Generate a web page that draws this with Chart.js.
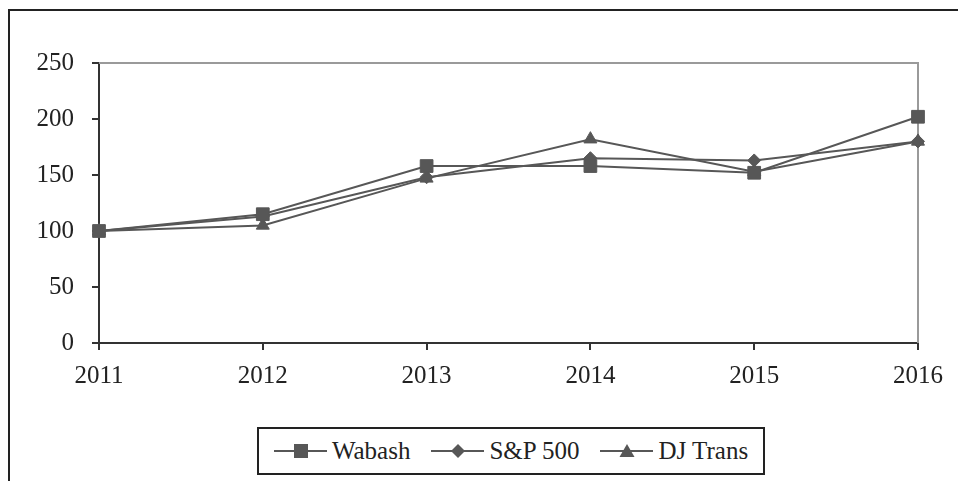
<!DOCTYPE html>
<html>
<head>
<meta charset="utf-8">
<script src="https://cdn.jsdelivr.net/npm/chart.js@4.4.1/dist/chart.umd.min.js"></script>
<style>
  html, body { margin: 0; padding: 0; background: #fff; }
  body { width: 958px; height: 481px; position: relative; overflow: hidden; font-family: "Liberation Serif", "Times New Roman", serif; }
  #frame { position: absolute; left: 8px; top: 9px; width: 1200px; height: 900px; border-left: 2px solid #222; border-top: 2px solid #222; }
  #wrap { position: absolute; left: 0; top: 0; width: 958px; height: 481px; }
  #legend { position: absolute; left: 257px; top: 427px; width: 504px; height: 44px; border: 2px solid #222; background: #fff;
            display: flex; align-items: center; justify-content: center; gap: 21px; font-size: 25px; color: #222; }
  .item { display: flex; align-items: center; gap: 5px; }
  .item canvas { display: block; }
</style>
</head>
<body>
<div id="frame"></div>
<div id="wrap"><canvas id="c" width="958" height="481"></canvas></div>
<div id="legend"></div>
<script>
const categories = ["2011", "2012", "2013", "2014", "2015", "2016"];
const wabash = [100, 115, 158, 158, 152, 202];
const sp500  = [100, 113, 148, 165, 163, 180];
const djTrans = [100, 105, 147, 182, 153, 180];
const seriesNames = ["Wabash", "S&P 500", "DJ Trans"];
const yTicks = [0, 50, 100, 150, 200, 250];

const lineColor = "#575757";
const styles = [
  { pointStyle: "rect", radius: 9 },
  { pointStyle: "rectRot", radius: 6.5 },
  { pointStyle: "triangle", radius: 7.5 }
];
const seriesData = [wabash, sp500, djTrans];

const plotFrame = {
  id: "plotFrame",
  beforeDatasetsDraw(chart) {
    const a = chart.chartArea, ctx = chart.ctx;
    ctx.save();
    ctx.strokeStyle = "#9a9a9a";
    ctx.lineWidth = 2;
    ctx.beginPath();
    ctx.moveTo(a.left, a.top);
    ctx.lineTo(a.right, a.top);
    ctx.lineTo(a.right, a.bottom);
    ctx.stroke();
    ctx.restore();
  }
};

const font = { family: "'Liberation Serif', 'Times New Roman', serif", size: 25 };

new Chart(document.getElementById("c"), {
  type: "line",
  data: {
    labels: categories,
    datasets: seriesData.map((d, i) => ({
      label: seriesNames[i],
      data: d,
      borderColor: lineColor,
      backgroundColor: lineColor,
      borderWidth: 2,
      pointStyle: styles[i].pointStyle,
      pointRadius: styles[i].radius,
      pointHoverRadius: styles[i].radius,
      pointBackgroundColor: lineColor,
      pointBorderColor: lineColor,
      pointBorderWidth: 1,
      tension: 0,
      fill: false
    }))
  },
  options: {
    responsive: false,
    animation: false,
    events: [],
    layout: { padding: { top: 63, right: 40, bottom: 0, left: 0 } },
    plugins: { legend: { display: false }, tooltip: { enabled: false } },
    scales: {
      x: {
        offset: false,
        afterFit(s) { s.height = 138; },
        border: { display: true, color: "#333", width: 2 },
        grid: { display: true, drawOnChartArea: false, drawTicks: true, tickLength: 7, color: "#333", lineWidth: 2 },
        ticks: { color: "#222", font, padding: 11, maxRotation: 0, autoSkip: false }
      },
      y: {
        min: 0, max: 250,
        afterFit(s) { s.width = 99; },
        afterBuildTicks(s) { s.ticks = yTicks.map(v => ({ value: v })); },
        border: { display: true, color: "#333", width: 2 },
        grid: { display: true, drawOnChartArea: false, drawTicks: true, tickLength: 7, color: "#333", lineWidth: 2 },
        ticks: { color: "#222", font, padding: 18 }
      }
    }
  },
  plugins: [plotFrame]
});

// HTML legend built from series names
const legend = document.getElementById("legend");
seriesNames.forEach((name, i) => {
  const item = document.createElement("div");
  item.className = "item";
  const cv = document.createElement("canvas");
  cv.width = 53; cv.height = 20;
  const ctx = cv.getContext("2d");
  ctx.strokeStyle = lineColor; ctx.fillStyle = lineColor; ctx.lineWidth = 2;
  ctx.beginPath(); ctx.moveTo(0, 10); ctx.lineTo(53, 10); ctx.stroke();
  ctx.beginPath();
  if (i === 0) { ctx.rect(20, 3, 14, 14); }
  else if (i === 1) { ctx.moveTo(27, 3); ctx.lineTo(34, 10); ctx.lineTo(27, 17); ctx.lineTo(20, 10); ctx.closePath(); }
  else { ctx.moveTo(27, 3); ctx.lineTo(34.5, 16); ctx.lineTo(19.5, 16); ctx.closePath(); }
  ctx.fill();
  const t = document.createElement("span");
  t.textContent = name;
  item.appendChild(cv); item.appendChild(t);
  legend.appendChild(item);
});
</script>
</body>
</html>
